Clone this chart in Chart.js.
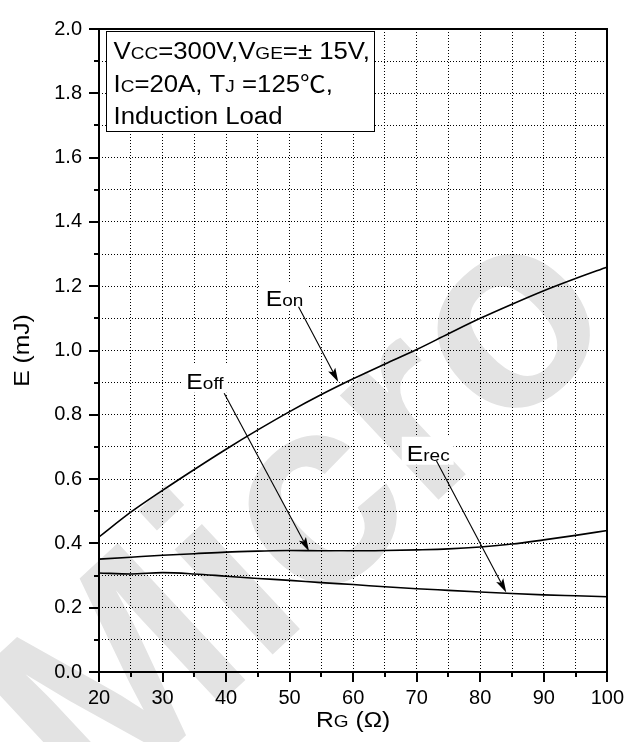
<!DOCTYPE html>
<html><head><meta charset="utf-8">
<script src="https://cdn.jsdelivr.net/npm/chart.js@4.4.1/dist/chart.umd.min.js"></script>
<style>html,body{margin:0;padding:0;background:#fff}#wrap{width:638px;height:742px;position:relative}</style>
</head><body><div id="wrap"><canvas id="c" width="638" height="742"></canvas></div>
<script>
// ---- data ----
const rg   = [20, 25, 30, 35, 40, 45, 50, 55, 60, 65, 70, 75, 80, 85, 90, 95, 100];
const eon  = [0.420, 0.497, 0.565, 0.630, 0.693, 0.753, 0.810, 0.863, 0.912, 0.958, 1.003, 1.052, 1.100, 1.144, 1.186, 1.224, 1.260];
const eoff = [0.351, 0.357, 0.363, 0.368, 0.373, 0.376, 0.378, 0.377, 0.377, 0.378, 0.380, 0.383, 0.389, 0.398, 0.411, 0.425, 0.440];
const erec = [0.308, 0.305, 0.309, 0.305, 0.298, 0.291, 0.285, 0.278, 0.272, 0.265, 0.259, 0.254, 0.249, 0.244, 0.240, 0.237, 0.234];
const xTickLabels = ['20', '30', '40', '50', '60', '70', '80', '90', '100'];
const yTickLabels = ['0.0', '0.2', '0.4', '0.6', '0.8', '1.0', '1.2', '1.4', '1.6', '1.8', '2.0'];
const xTitle = [['R', 'b'], ['G', 's'], [' (Ω)', 'b']];
const yTitle = 'E (mJ)';
const conditionLines = [
  [['V', 'b'], ['CC', 's'], ['=300V,V', 'b'], ['GE', 's'], ['=± 15V,', 'b']],
  [['I', 'b'], ['C', 's'], ['=20A, T', 'b'], ['J', 's'], [' =125℃,', 'b']],
  [['Induction Load', 'b']]
];
// curve labels: text, label anchor (data coords), arrow start -> arrow tip (data coords)
const curveLabels = [
  { main: 'E', sub: 'on',  at: [46.25, 1.139], from: [51.4, 1.136], to: [57.66, 0.902] },
  { main: 'E', sub: 'off', at: [33.75, 0.881], from: [39.7, 0.867], to: [53.06, 0.3755] },
  { main: 'E', sub: 'rec', at: [68.44, 0.657], from: [73.1, 0.657], to: [84.1, 0.247] }
];

const FAM = '"Liberation Sans", Arial, "Noto Sans CJK SC", sans-serif';
const SX = 1.12;

function richText(ctx, x, y, parts, big, small, sx) {
  ctx.save();
  ctx.translate(x, y);
  ctx.scale(sx, 1);
  ctx.textBaseline = 'alphabetic';
  ctx.textAlign = 'left';
  let cx = 0;
  for (const [t, k] of parts) {
    ctx.font = (k === 'b' ? big : small) + 'px ' + FAM;
    ctx.fillText(t, cx, 0);
    cx += ctx.measureText(t).width;
  }
  ctx.restore();
  return cx * sx;
}
function richWidth(ctx, parts, big, small, sx) {
  ctx.save();
  let w = 0;
  for (const [t, k] of parts) {
    ctx.font = (k === 'b' ? big : small) + 'px ' + FAM;
    w += ctx.measureText(t).width;
  }
  ctx.restore();
  return w * sx;
}

const pts = arr => rg.map((x, i) => ({ x: x, y: arr[i] }));

const watermark = {
  id: 'watermark',
  beforeDraw(chart) {
    const ctx = chart.ctx;
    ctx.save();
    ctx.translate(93, 822);
    ctx.rotate(-43 * Math.PI / 180);
    ctx.font = 'bold 272px "Liberation Sans", Arial, sans-serif';
    ctx.fillStyle = '#e3e3e3';
    ctx.textBaseline = 'alphabetic';
    ctx.fillText('Micro', 0, 0);
    ctx.restore();
  }
};

const decorations = {
  id: 'decorations',
  afterDatasetsDraw(chart) {
    const ctx = chart.ctx, xs = chart.scales.x, ys = chart.scales.y, ca = chart.chartArea;
    // curve labels with arrows
    for (const L of curveLabels) {
      const lx = xs.getPixelForValue(L.at[0]), ly = ys.getPixelForValue(L.at[1]);
      const parts = [[L.main, 'b'], [L.sub, 's']];
      const w = richWidth(ctx, parts, 22, 17, SX);
      ctx.fillStyle = '#fff';
      ctx.fillRect(lx - 5, ly - 24, w + 9, 28);
      ctx.fillStyle = '#000';
      richText(ctx, lx, ly, parts, 22, 17, SX);
      const x1 = xs.getPixelForValue(L.from[0]), y1 = ys.getPixelForValue(L.from[1]);
      const x2 = xs.getPixelForValue(L.to[0]),   y2 = ys.getPixelForValue(L.to[1]);
      const ang = Math.atan2(y2 - y1, x2 - x1);
      const hl = 14, hw = 4;
      ctx.save();
      ctx.strokeStyle = '#000'; ctx.lineWidth = 1.1;
      ctx.beginPath(); ctx.moveTo(x1, y1);
      ctx.lineTo(x2 - Math.cos(ang) * hl * 0.8, y2 - Math.sin(ang) * hl * 0.8); ctx.stroke();
      ctx.fillStyle = '#000';
      ctx.beginPath();
      ctx.moveTo(x2, y2);
      ctx.lineTo(x2 - Math.cos(ang) * hl - Math.sin(ang) * hw, y2 - Math.sin(ang) * hl + Math.cos(ang) * hw);
      ctx.lineTo(x2 - Math.cos(ang) * hl * 0.8, y2 - Math.sin(ang) * hl * 0.8);
      ctx.lineTo(x2 - Math.cos(ang) * hl + Math.sin(ang) * hw, y2 - Math.sin(ang) * hl - Math.cos(ang) * hw);
      ctx.closePath(); ctx.fill();
      ctx.restore();
    }
    // condition box
    const bx = ca.left + 7.5, by = ca.top + 2.5;
    let maxW = 0;
    for (const line of conditionLines) maxW = Math.max(maxW, richWidth(ctx, line, 23, 17, SX));
    const bw = Math.round(maxW + 12), bh = 100;
    ctx.save();
    ctx.fillStyle = '#fff';
    ctx.fillRect(bx, by, bw, bh);
    ctx.strokeStyle = '#000'; ctx.lineWidth = 1;
    ctx.strokeRect(bx, by, bw, bh);
    ctx.fillStyle = '#000';
    conditionLines.forEach((line, i) => richText(ctx, bx + 7, by + 27.5 + i * 32.5, line, 23, 17, SX));
    ctx.restore();
  },
  afterDraw(chart) {
    const ctx = chart.ctx, xs = chart.scales.x, ys = chart.scales.y, ca = chart.chartArea;
    ctx.save();
    ctx.strokeStyle = '#000';
    ctx.lineWidth = 2;
    // tick marks (outward)
    for (const t of xs.ticks) {
      const px = Math.round(xs.getPixelForValue(t.value));
      const major = Math.round(t.value) % 10 === 0;
      ctx.beginPath(); ctx.moveTo(px, ca.bottom); ctx.lineTo(px, ca.bottom + (major ? 10 : 5)); ctx.stroke();
    }
    for (const t of ys.ticks) {
      const py = Math.round(ys.getPixelForValue(t.value));
      const major = Math.round(t.value * 10) % 2 === 0;
      ctx.beginPath(); ctx.moveTo(ca.left, py); ctx.lineTo(ca.left - (major ? 10 : 5), py); ctx.stroke();
    }
    // frame
    ctx.strokeRect(Math.round(ca.left), Math.round(ca.top), Math.round(ca.right - ca.left), Math.round(ca.bottom - ca.top));
    ctx.restore();
    // axis titles
    ctx.save();
    ctx.fillStyle = '#000';
    const xw = richWidth(ctx, xTitle, 22, 17, SX);
    richText(ctx, (ca.left + ca.right) / 2 - xw / 2, ca.bottom + 55, xTitle, 22, 17, SX);
    ctx.translate(29, (ca.top + ca.bottom) / 2);
    ctx.rotate(-Math.PI / 2);
    const yw = richWidth(ctx, [[yTitle, 'b']], 22, 17, SX);
    richText(ctx, -yw / 2, 0, [[yTitle, 'b']], 22, 17, SX);
    ctx.restore();
  }
};

new Chart(document.getElementById('c'), {
  type: 'line',
  data: {
    datasets: [
      { label: 'Eon',  data: pts(eon) },
      { label: 'Eoff', data: pts(eoff) },
      { label: 'Erec', data: pts(erec) }
    ].map(d => Object.assign(d, {
      borderColor: '#000', borderWidth: 1.6, pointRadius: 0, fill: false,
      cubicInterpolationMode: 'monotone'
    }))
  },
  options: {
    responsive: false,
    animation: false,
    devicePixelRatio: 1,
    layout: { padding: { left: 0, right: 27, top: 17, bottom: 0 } },
    plugins: { legend: { display: false }, tooltip: { enabled: false } },
    scales: {
      x: {
        type: 'linear', min: 20, max: 100,
        afterFit: s => { s.height = 70; },
        ticks: {
          stepSize: 5, autoSkip: false, maxRotation: 0, padding: 14,
          color: '#000', font: { family: FAM, size: 20 },
          callback: v => { const s = String(Math.round(v)); return (Math.round(v) % 10 === 0 && xTickLabels.includes(s)) ? s : ''; }
        },
        grid: { color: '#000', lineWidth: 1, drawTicks: false, borderDash: [1, 2] },
        border: { display: false, dash: [1, 2] }
      },
      y: {
        type: 'linear', min: 0, max: 2,
        afterFit: s => { s.width = 99; },
        ticks: {
          stepSize: 0.1, autoSkip: false, padding: 17,
          color: '#000', font: { family: FAM, size: 20 },
          callback: v => { const k = Math.round(v * 10); return k % 2 === 0 ? yTickLabels[k / 2] : ''; }
        },
        grid: { color: '#000', lineWidth: 1, drawTicks: false, borderDash: [1, 2] },
        border: { display: false, dash: [1, 2] }
      }
    }
  },
  plugins: [watermark, decorations]
});
</script>
</body></html>
